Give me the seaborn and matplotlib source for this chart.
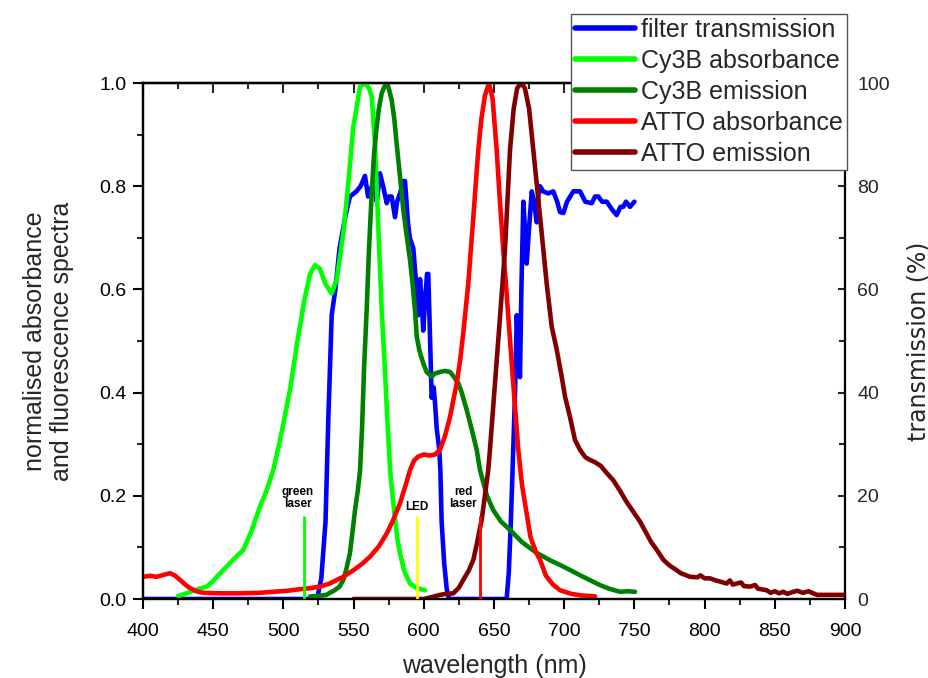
import matplotlib
matplotlib.use("Agg")
import matplotlib.pyplot as plt
import seaborn as sns
from matplotlib.ticker import MultipleLocator
from matplotlib.lines import Line2D

# ---------------- data ----------------
filter_nm = [400, 500, 524, 527, 530, 532, 534.4, 537, 540, 544, 547.4, 552, 555, 558.1, 560.3, 563, 565,
             566.5, 568.8, 571, 573.6, 575, 577.1, 579.5, 581, 583, 585.4, 586.6, 588.7, 590, 592.5, 594,
             596.1, 597.3, 598.5, 599.6, 601, 602.3, 603.2, 604.4, 605.6, 607, 608, 609.2, 611, 611.8,
             612.7, 614.5, 616.3, 618, 659, 660.5, 662, 663.7, 665, 666.2, 667.3, 668.5, 669.5, 670.9,
             672, 673.3, 675, 676.9, 678.5, 680.4, 681.5, 682.8, 685, 688.7, 692.2, 695, 697, 699.4, 702,
             706.5, 711.3, 715, 719.6, 722, 724.3, 727, 730.3, 734, 737.4, 740, 742.1, 744, 746.9, 750]
filter_pct = [0, 0, 0, 4, 15, 35, 55, 60, 68, 74, 78, 79, 80, 82, 78, 80, 81,
              77, 82.5, 80, 76.7, 78, 78, 74, 77, 78.6, 81, 81, 73, 70, 68, 63,
              55, 62, 58, 52, 58, 63, 63, 51, 39, 41, 38, 33, 29, 25,
              15, 7, 2, 0, 0, 5, 15, 29, 40, 55, 48, 43, 60, 77,
              72, 65, 72, 79, 77, 73, 78, 80, 79, 78.6, 79, 77, 75, 74.8, 77,
              79, 79, 77, 76.7, 78, 78, 77, 77, 75.5, 74.4, 76, 76, 77, 76, 77]

cy3b_abs_nm = [425, 430, 435, 440, 445.4, 450, 455, 459.6, 465, 471.4, 477, 483.3, 488, 492.8, 497, 500,
               505, 510, 515, 519, 522.5, 526, 530, 534.4, 538, 542.7, 546, 549.8, 552, 554.6, 558.1,
               561, 562.9, 565.2, 567.6, 570, 572, 574, 576, 578.3, 581, 583, 586, 590.2, 595, 600.9]
cy3b_abs = [0.006, 0.01, 0.015, 0.02, 0.024, 0.035, 0.05, 0.063, 0.078, 0.095, 0.13, 0.179, 0.21, 0.25,
            0.3, 0.34, 0.41, 0.5, 0.58, 0.63, 0.647, 0.64, 0.61, 0.592, 0.62, 0.709, 0.8, 0.915, 0.95,
            0.993, 1.0, 0.99, 0.974, 0.884, 0.72, 0.56, 0.46, 0.35, 0.25, 0.185, 0.12, 0.089, 0.055,
            0.03, 0.021, 0.017]

cy3b_em_nm = [519, 525, 530.8, 533, 536, 540, 542.7, 545, 547.4, 549, 551, 553, 554.6, 556, 557.5, 559.3,
              561, 562.9, 564.5, 566.4, 568, 570, 573, 575, 577.1, 579, 580.6, 583, 585.4, 588, 590.2,
              592, 593.7, 595, 597, 599.6, 602, 605.6, 608, 611.5, 615, 618.7, 621, 624.6, 627, 630.6,
              634, 637.7, 640, 645, 649.5, 655, 661.4, 670, 680, 690, 697, 705, 712, 718, 725.5, 732,
              739.7, 745, 750.4]
cy3b_em = [0.005, 0.006, 0.008, 0.012, 0.016, 0.024, 0.037, 0.06, 0.089, 0.125, 0.172, 0.21, 0.25, 0.33,
           0.45, 0.56, 0.68, 0.787, 0.86, 0.915, 0.95, 0.98, 1.0, 0.99, 0.967, 0.93, 0.884, 0.82, 0.754,
           0.7, 0.657, 0.61, 0.56, 0.508, 0.48, 0.457, 0.44, 0.431, 0.437, 0.44, 0.442, 0.44, 0.432,
           0.418, 0.4, 0.366, 0.33, 0.289, 0.25, 0.2, 0.172, 0.15, 0.134, 0.11, 0.09, 0.075, 0.066,
           0.055, 0.045, 0.037, 0.027, 0.02, 0.014, 0.015, 0.014]

atto_abs_nm = [400, 405, 409.7, 415, 419.2, 423, 426.4, 430, 433.5, 438, 443, 455, 469, 483.3, 492.8, 503,
               511.8, 519, 526, 533, 540.3, 542.7, 550, 556, 561.7, 568, 573.6, 578, 583, 587, 590.2, 593,
               596, 600, 604, 608, 611.5, 615, 618.7, 621, 623.4, 626, 628.1, 631.7, 635.3, 638.8, 641,
               643.5, 646.4, 649, 651.9, 654, 656.6, 658.5, 660.2, 663.7, 667.3, 670, 673, 676, 680,
               682.8, 687, 692, 697, 705, 712, 722]
atto_abs = [0.043, 0.045, 0.043, 0.047, 0.05, 0.045, 0.037, 0.028, 0.021, 0.015, 0.012, 0.011, 0.011,
            0.012, 0.014, 0.016, 0.019, 0.021, 0.024, 0.03, 0.04, 0.043, 0.056, 0.068, 0.082, 0.102,
            0.127, 0.152, 0.185, 0.22, 0.25, 0.268, 0.276, 0.28, 0.278, 0.28, 0.289, 0.315, 0.353,
            0.385, 0.418, 0.465, 0.515, 0.612, 0.741, 0.87, 0.93, 0.975, 1.0, 0.97, 0.87, 0.78, 0.676,
            0.61, 0.547, 0.418, 0.289, 0.22, 0.17, 0.12, 0.09, 0.076, 0.045, 0.028, 0.017, 0.01,
            0.007, 0.005]

atto_em_nm = [550, 600, 606, 611.5, 616, 621, 625, 628.1, 632, 635.3, 638, 641.2, 643.5, 645.9, 647.1,
              650.7, 654.3, 657.8, 661.4, 664, 666.5, 669.2, 672, 675, 678, 682.8, 687.5, 691.1, 694.7,
              698.2, 700.6, 704.1, 707.7, 711.3, 715, 718, 722, 726, 730, 735, 739.7, 744, 749, 754,
              758, 762, 766, 770.6, 775, 780, 783, 785, 789.6, 795, 797, 800, 803.8, 808, 812, 815.7,
              818, 820, 826, 828, 832.3, 836, 838, 844.2, 847, 850, 853, 856, 859, 862, 866, 870, 874,
              877.4, 880, 901]
atto_em = [0.0, 0.0, 0.004, 0.008, 0.01, 0.011, 0.022, 0.037, 0.055, 0.076, 0.11, 0.153, 0.2, 0.25,
           0.289, 0.418, 0.547, 0.676, 0.87, 0.95, 0.99, 1.0, 0.99, 0.95, 0.87, 0.741, 0.612, 0.528,
           0.483, 0.431, 0.392, 0.353, 0.308, 0.289, 0.275, 0.27, 0.265, 0.258, 0.245, 0.23, 0.21,
           0.19, 0.17, 0.15, 0.13, 0.11, 0.095, 0.076, 0.065, 0.056, 0.05, 0.048, 0.043, 0.042, 0.046,
           0.04, 0.04, 0.036, 0.033, 0.03, 0.036, 0.028, 0.032, 0.025, 0.024, 0.027, 0.02, 0.017,
           0.012, 0.015, 0.011, 0.014, 0.01, 0.013, 0.016, 0.012, 0.015, 0.011, 0.008, 0.008]

series_labels = ["filter transmission", "Cy3B absorbance", "Cy3B emission", "ATTO absorbance", "ATTO emission"]
series_colors = ["#0000FF", "#00FF00", "#008000", "#FF0000", "#800000"]

source_nm = [515, 595, 640]
source_height = [0.16, 0.16, 0.16]
source_colors = ["#00FF00", "#FFFF00", "#FF0000"]
source_labels = ["green\nlaser", "LED", "red\nlaser"]
source_label_x = [510, 595, 628]
source_label_y = [0.196, 0.178, 0.196]

# ---------------- plot ----------------
sns.set_style("ticks")
plt.rcParams['font.family'] = ['Liberation Sans', 'DejaVu Sans']

W, H = 929, 678
fig = plt.figure(figsize=(W / 100, H / 100), dpi=100)
ax = fig.add_axes([143 / W, 1 - 599 / H, (845 - 143) / W, (599 - 83) / H])
ax2 = ax.twinx()
ax.set_zorder(ax2.get_zorder() + 1)
ax.patch.set_visible(False)

LW = 3.3
sns.lineplot(x=filter_nm, y=filter_pct, ax=ax2, color=series_colors[0], lw=LW,
             sort=False, estimator=None)
for xs, ys, c in [(cy3b_abs_nm, cy3b_abs, series_colors[1]),
                  (cy3b_em_nm, cy3b_em, series_colors[2]),
                  (atto_abs_nm, atto_abs, series_colors[3]),
                  (atto_em_nm, atto_em, series_colors[4])]:
    sns.lineplot(x=xs, y=ys, ax=ax, color=c, lw=LW, sort=False, estimator=None)

ax.vlines(source_nm, 0, source_height, colors=source_colors, lw=2, zorder=5)
for tx, ty, t in zip(source_label_x, source_label_y, source_labels):
    ax.text(tx, ty, t, ha='center', va='center', fontsize=8.5, fontweight='bold',
            linespacing=1.0, color='black')

ax.set_xlim(400, 900)
ax.set_ylim(0, 1.0)
ax2.set_ylim(0, 100)

ax.xaxis.set_major_locator(MultipleLocator(50))
ax.xaxis.set_minor_locator(MultipleLocator(25))
ax.yaxis.set_major_locator(MultipleLocator(0.2))
ax.yaxis.set_minor_locator(MultipleLocator(0.1))
ax2.yaxis.set_major_locator(MultipleLocator(20))
ax2.yaxis.set_minor_locator(MultipleLocator(10))
ax.set_yticks([0, 0.2, 0.4, 0.6, 0.8, 1.0])
ax.set_yticklabels(["0.0", "0.2", "0.4", "0.6", "0.8", "1.0"])

for a in (ax, ax2):
    for s in a.spines.values():
        s.set_linewidth(1.6)
        s.set_color('black')
ax.spines['right'].set_visible(False)

ax.tick_params(axis='x', which='major', pad=10)
ax.tick_params(axis='y', which='major', pad=5)
ax.tick_params(axis='both', which='major', direction='out', length=7, width=1.5,
               labelsize=14, right=False, top=False, colors='black')
ax.tick_params(axis='both', which='minor', direction='out', length=4, width=1.5,
               right=False, top=False)
ax2.tick_params(axis='y', which='major', direction='in', length=5, width=1.5, labelsize=14, pad=9)
ax2.tick_params(axis='y', which='minor', direction='in', length=4, width=1.5)

top = ax.secondary_xaxis('top')
top.xaxis.set_major_locator(MultipleLocator(50))
top.xaxis.set_minor_locator(MultipleLocator(25))
top.tick_params(which='major', direction='in', length=7, width=1.5, labeltop=False)
top.tick_params(which='minor', direction='in', length=4, width=1.5)
top.spines['top'].set_linewidth(1.6)

ax.set_xlabel("wavelength (nm)", fontsize=18, labelpad=10)
ax.set_ylabel("normalised absorbance\nand fluorescence spectra", fontsize=18, labelpad=18,
              linespacing=1.15)
ax2.set_ylabel("transmission (%)", fontsize=17, labelpad=12, family='DejaVu Sans')

handles = [Line2D([0], [0], color=c, lw=LW + 0.7) for c in series_colors]
leg = fig.legend(handles, series_labels, loc='upper right',
                 bbox_to_anchor=(847 / W, 1 - 14 / H), fontsize=18, frameon=True,
                 fancybox=False, framealpha=1, edgecolor='#555555', borderaxespad=0,
                 handlelength=2.4, handletextpad=0.25, labelspacing=0.28, borderpad=0.15)
leg.get_frame().set_linewidth(1.0)

fig.savefig("out.png", dpi=100)
